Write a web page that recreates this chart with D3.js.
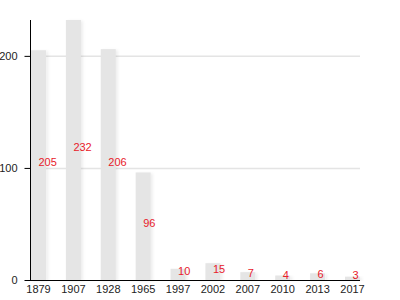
<!DOCTYPE html>
<head>
  <meta charset="UTF-8" />
  <script src="https://d3js.org/d3.v7.min.js"></script>
  <style>
    body { margin: 0; background: #fff; }
    text { font-family: "Liberation Sans", Arial, sans-serif; }
  </style>
</head>
<body>
  <script>
    // données
    var years = ["1879", "1907", "1928", "1965", "1997", "2002", "2007", "2010", "2013", "2017"];
    var values = [205, 232, 206, 96, 10, 15, 7, 4, 6, 3];
    var yTicks = [0, 100, 200];

    var width = 400,
      height = 300;

    var svg = d3.select("body").append("svg")
      .attr("width", width)
      .attr("height", height);

    // ombre legere des barres
    var filter = svg.append("defs").append("filter")
      .attr("id", "shadow")
      .attr("x", "-20%").attr("y", "-5%")
      .attr("width", "160%").attr("height", "110%");
    filter.append("feDropShadow")
      .attr("dx", 2).attr("dy", 1)
      .attr("stdDeviation", 1.5)
      .attr("flood-color", "#000")
      .attr("flood-opacity", 0.07);

    var x = d3.scaleBand()
      .domain(years)
      .range([31, 360])
      .paddingInner(0.57)
      .paddingOuter(0);

    var y = d3.scaleLinear()
      .domain([0, 232])
      .range([280, 20]);

    // grille
    svg.append("g")
      .selectAll("line")
      .data(yTicks.filter(function (d) { return d > 0; }))
      .join("line")
      .attr("x1", 30)
      .attr("x2", 360)
      .attr("y1", function (d) { return y(d) + 0.5; })
      .attr("y2", function (d) { return y(d) + 0.5; })
      .style("stroke", "#e4e4e4")
      .style("stroke-width", 1.5);

    // barres
    svg.append("g")
      .selectAll("rect")
      .data(values)
      .join("rect")
      .attr("x", function (d, i) { return x(years[i]); })
      .attr("y", function (d) { return y(d); })
      .attr("width", x.bandwidth())
      .attr("height", function (d) { return y(0) - y(d); })
      .style("fill", "#e5e5e5")
      .attr("filter", "url(#shadow)");

    // valeurs en rouge
    svg.append("g")
      .selectAll("text")
      .data(values)
      .join("text")
      .attr("x", function (d, i) { return x(years[i]) + x.bandwidth() / 2; })
      .attr("y", function (d) { return (y(d) + y(0)) / 2 + 1; })
      .style("font-size", "11px")
      .style("fill", "#e8202a")
      .text(function (d) { return d; });

    // axes
    var yAxis = svg.append("g")
      .attr("transform", "translate(30.5,0)")
      .call(d3.axisLeft(y).tickValues(yTicks).tickSize(6).tickPadding(7));
    yAxis.select(".domain").attr("d", "M0,20V280");

    var xAxis = svg.append("g")
      .attr("transform", "translate(0,280.5)")
      .call(d3.axisBottom(x).tickSize(0).tickPadding(5));
    xAxis.select(".domain").attr("d", "M30,0H360");

    svg.selectAll(".tick text")
      .style("font-size", "11px")
      .style("font-family", "Liberation Sans, Arial, sans-serif")
      .style("fill", "#222");
  </script>
</body>
